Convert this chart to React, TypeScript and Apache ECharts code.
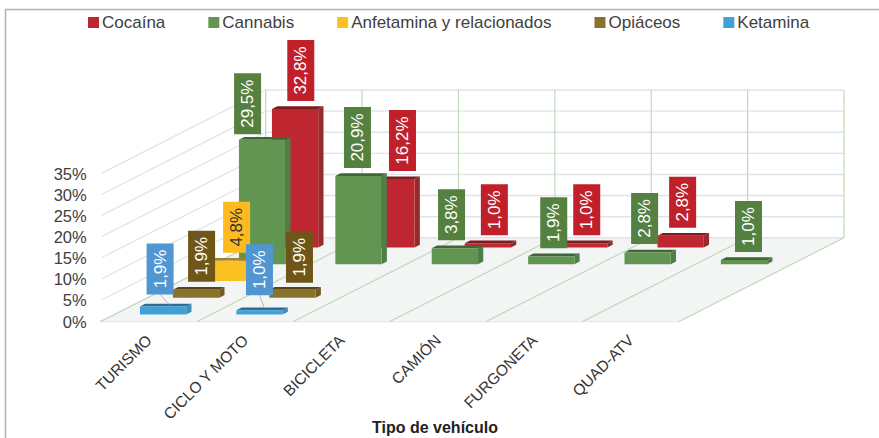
import React, { useEffect, useRef } from "react";
import * as echarts from "echarts";

const categories = ["TURISMO", "CICLO Y MOTO", "BICICLETA", "CAMIÓN", "FURGONETA", "QUAD-ATV"];
const yTicks = [0, 5, 10, 15, 20, 25, 30, 35];

const cocaina = [32.8, 16.2, 1.0, 1.0, 2.8, null];
const cannabis = [29.5, 20.9, 3.8, 1.9, 2.8, 1.0];
const anfetamina = [4.8, null, null, null, null, null];
const opiaceos = [1.9, 1.9, null, null, null, null];
const ketamina = [1.9, 1.0, null, null, null, null];

const FONT = '"Liberation Sans", Arial, sans-serif';
const ROW_DX = 33;
const ROW_DY = 16.74;
const ROWS = 5;

// back row first, so nearer rows paint over farther ones
const rows = [
  { name: "Cocaína", values: cocaina, depth: 4, front: "#BE272F", top: "#7C1C20", side: "#952C2B", label: "#C0202A", text: "#FFFFFF", shift: [5.7, 11, 6.5, 2.5, 2, 0], gap: [8, 8, 8, 8, 8, 8] },
  { name: "Cannabis", values: cannabis, depth: 3, front: "#629552", top: "#3E6637", side: "#517E46", label: "#548040", text: "#FFFFFF", shift: [-14.5, -1, -3.3, 2.5, -3, 4.5], gap: [5.5, 8, 8, 8, 8.5, 8] },
  { name: "Anfetamina y relacionados", values: anfetamina, depth: 2, front: "#FBC021", top: "#A5822A", side: "#D6A21F", label: "#FDBB20", text: "#333333", shift: [7.5, 0, 0, 0, 0, 0], gap: [8, 8, 8, 8, 8, 8] },
  { name: "Opiáceos", values: opiaceos, depth: 1, front: "#8B722C", top: "#574718", side: "#6E5A22", label: "#6F5518", text: "#FFFFFF", shift: [5.5, 7, 0, 0, 0, 0], gap: [8, 7, 8, 8, 8, 8] },
  { name: "Ketamina", values: ketamina, depth: 0, front: "#41A0D8", top: "#2C6E93", side: "#3A8FC0", label: "#4F96D2", text: "#FFFFFF", shift: [-3, 0, 0, 0, 0, 0], gap: [12, 15, 8, 8, 8, 8] },
];

const toPairs = (values: (number | null)[]) =>
  values.map((v, i) => (v === null ? null : [i, v])).filter(Boolean) as number[][];

const fmt = (v: number) => v.toFixed(1).replace(".", ",") + "%";

// ground point of a category's left edge + fraction of band, lifted to a value and pushed back by depth rows
function project(api: any, cat: number, frac: number, value: number, depth: number) {
  const p = api.coord([0, value]);
  const band = api.size([1, 0])[0];
  return [p[0] - band / 2 + (cat + frac) * band + depth * ROW_DX, p[1] - depth * ROW_DY];
}

const BAR_FRAC = 0.2635;
const BAR_W = 0.48;
const D0 = 0.42;
const D1 = 0.58;

function renderWalls(_: any, api: any) {
  const n = categories.length;
  const children: any[] = [];
  const poly = (pts: number[][], fill: string) => ({ type: "polygon", shape: { points: pts }, style: { fill }, silent: true });
  const line = (a: number[], b: number[], stroke: string, lineWidth = 1) => ({
    type: "line",
    shape: { x1: a[0], y1: a[1], x2: b[0], y2: b[1] },
    style: { stroke, lineWidth },
    silent: true,
  });
  children.push(
    poly(
      [project(api, 0, 0, 0, 0), project(api, n, 0, 0, 0), project(api, n, 0, 0, ROWS), project(api, 0, 0, 0, ROWS)],
      "#F3F5F5"
    )
  );
  yTicks.forEach((t) => {
    children.push(line(project(api, 0, 0, t, 0.02), project(api, 0, 0, t, ROWS), "#DDE4EC", 1.2));
    children.push(line(project(api, 0, 0, t, ROWS), project(api, n, 0, t, ROWS), "#DDE4EC", 1.4));
  });
  const top = yTicks[yTicks.length - 1];
  for (let c = 0; c <= n; c++) {
    children.push(line(project(api, c, 0, 0, 0), project(api, c, 0, 0, ROWS), "#BBD8B2", 1.1));
    children.push(line(project(api, c, 0, 0, ROWS), project(api, c, 0, top, ROWS), "#BFDBB8", 1.2));
  }
  return { type: "group", children };
}

const makeBarRenderer = (row: any) => (_: any, api: any) => {
  const cat = api.value(0);
  const v = api.value(1);
  const d = row.depth;
  const x0 = BAR_FRAC;
  const x1 = BAR_FRAC + BAR_W;
  const fbl = project(api, cat, x0, 0, d + D0);
  const fbr = project(api, cat, x1, 0, d + D0);
  const ftl = project(api, cat, x0, v, d + D0);
  const ftr = project(api, cat, x1, v, d + D0);
  const bbr = project(api, cat, x1, 0, d + D1);
  const btl = project(api, cat, x0, v, d + D1);
  const btr = project(api, cat, x1, v, d + D1);
  return {
    type: "group",
    children: [
      { type: "polygon", shape: { points: [fbr, ftr, btr, bbr] }, style: { fill: row.side } },
      { type: "polygon", shape: { points: [ftl, ftr, btr, btl] }, style: { fill: row.top } },
      { type: "polygon", shape: { points: [fbl, fbr, ftr, ftl] }, style: { fill: row.front } },
    ],
  };
};

const makeLabelRenderer = (row: any) => (_: any, api: any) => {
  const cat = api.value(0);
  const v = api.value(1);
  const d = row.depth;
  const text = fmt(v);
  const top = project(api, cat, BAR_FRAC + BAR_W / 2, v, d + D0);
  const cx = top[0] + row.shift[cat];
  const gap = row.gap[cat];
  const bottom = top[1] - gap;
  const h = text.length === 5 ? 61 : 51;
  const w = 27;
  const children: any[] = [];
  if (gap > 10) {
    children.push({
      type: "line",
      shape: { x1: cx, y1: bottom, x2: top[0] + (cat === 0 ? 6 : 5), y2: top[1] - 2 },
      style: { stroke: "#A9B8C9", lineWidth: 1 },
    });
  }
  children.push({
    type: "rect",
    shape: { x: cx - w / 2, y: bottom - h, width: w, height: h },
    style: { fill: row.label },
  });
  children.push({
    type: "text",
    x: cx,
    y: bottom - h / 2,
    rotation: Math.PI / 2,
    style: {
      text,
      fill: row.text,
      font: `17px ${FONT}`,
      align: "center",
      verticalAlign: "middle",
    },
  });
  return { type: "group", children };
};

export default function App() {
  const ref = useRef<HTMLDivElement>(null);
  useEffect(() => {
    document.body.style.margin = "0";
    const chart = echarts.init(ref.current!, null, { renderer: "svg" });
    const series: any[] = [
      {
        type: "custom",
        name: "planos",
        data: [[0, 0]],
        renderItem: renderWalls,
        silent: true,
        z: 1,
      },
    ];
    rows.forEach((row) => {
      series.push({
        type: "custom",
        name: row.name,
        data: toPairs(row.values),
        renderItem: makeBarRenderer(row),
        itemStyle: { color: row.front },
        z: 3,
      });
    });
    rows.forEach((row) => {
      series.push({
        type: "custom",
        name: row.name,
        data: toPairs(row.values),
        renderItem: makeLabelRenderer(row),
        itemStyle: { color: row.front },
        z: 5,
      });
    });
    chart.setOption({
      animation: false,
      backgroundColor: "#FFFFFF",
      title: {
        text: "Tipo de vehículo",
        left: 430,
        top: 414,
        textAlign: "center",
        textStyle: { fontFamily: FONT, fontSize: 16, fontWeight: "bold", color: "#222222" },
      },
      legend: {
        data: rows.map((r) => r.name),
        left: 83,
        top: 9,
        itemGap: 43,
        itemWidth: 11,
        itemHeight: 11,
        icon: "rect",
        selectedMode: false,
        textStyle: { fontFamily: FONT, fontSize: 17, color: "#404040", padding: [0, 0, 3, -2] },
      },
      grid: { left: 100.7, right: 200, top: 173.7, bottom: 116.5 },
      xAxis: {
        type: "category",
        data: categories,
        axisLine: { show: true, lineStyle: { color: "#D9E1E8", width: 1.4 } },
        axisTick: { show: false },
        axisLabel: { rotate: 45, margin: 16, interval: 0, fontFamily: FONT, fontSize: 15.5, color: "#333333" },
      },
      yAxis: {
        type: "value",
        min: 0,
        max: 35,
        interval: 5,
        axisLine: { show: false },
        axisTick: { show: false },
        splitLine: { show: false },
        axisLabel: { formatter: "{value}%", margin: 14, fontFamily: FONT, fontSize: 16.5, color: "#404040" },
      },
      graphic: [
        { type: "line", shape: { x1: 5.5, y1: 9.5, x2: 879, y2: 9.5 }, style: { stroke: "#B0B0B0", lineWidth: 1.5 }, silent: true },
        { type: "line", shape: { x1: 5.5, y1: 9.5, x2: 5.5, y2: 438 }, style: { stroke: "#B0B0B0", lineWidth: 1.5 }, silent: true },
      ],
      series,
    });
    return () => chart.dispose();
  }, []);
  return <div ref={ref} style={{ position: "fixed", left: 0, top: 0, width: 879, height: 438 }} />;
}
